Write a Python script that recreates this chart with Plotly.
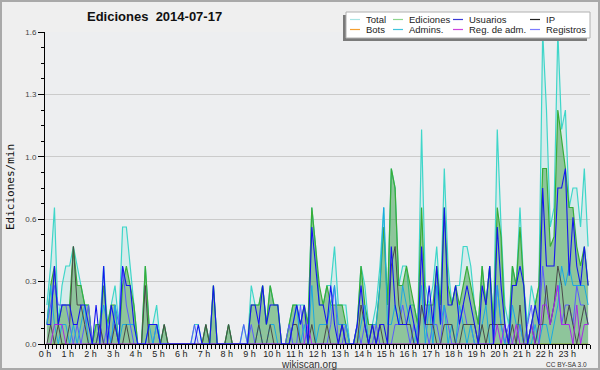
import plotly.graph_objects as go

# ---------------- data (10-minute bins, edits per minute) ----------------
bins_per_day = 144
hours = [(i + 0.5) / 6 for i in range(bins_per_day)]
hour_ticks = list(range(24))
hour_labels = [f"{h} h" for h in hour_ticks]
y_ticks = [0, 0.32, 0.64, 0.96, 1.28, 1.6]
y_labels = ["0.0", "0.3", "0.6", "1.0", "1.3", "1.6"]

total = [0.2,0.4,0.7,0.1,0.3,0.4, 0.4,0.5,0.4,0.3,0.2,0.2,
         0,0.1,0.1,0.4,0.1,0.2, 0.3,0.1,0.6,0.6,0.4,0.2,
         0,0,0.4,0.1,0.1,0.2, 0,0.1,0,0,0,0,
         0,0,0,0.1,0.1,0, 0.1,0,0.3,0,0,0,
         0.1,0,0,0,0.1,0, 0.3,0.2,0.2,0.3,0.1,0.3,
         0.2,0.2,0,0,0.1,0.2, 0.2,0.2,0.2,0.1,0.7,0.5,
         0.2,0.2,0.3,0.3,0.5,0.2, 0.2,0.2,0,0,0.1,0.4,
         0.3,0.1,0.1,0.2,0.4,0.7, 0.2,0.9,0.8,0.3,0.4,0.4,
         0.2,0.2,0.1,1.1,0.3,0.2, 0.3,0.5,0.2,0.9,0.4,0.2,
         0.3,0.3,0.5,0.5,0.4,0.2, 0.1,0.4,0.2,0.4,0.1,1.1,
         0.6,0.2,0.1,0.4,0.3,0.7, 0.3,0.1,0.3,0.2,0.3,1.6,
         1.2,0.6,0.7,1.6,1.1,1.2, 0.7,0.8,0.8,0.6,0.9,0.5]

ediciones = [0.1,0.3,0.4,0.1,0.2,0.2, 0.2,0.5,0.3,0.3,0.2,0.2,
             0,0.1,0.1,0.3,0.1,0.2, 0.2,0,0.3,0.4,0.3,0.2,
             0,0,0.4,0.1,0.1,0.1, 0,0.1,0,0,0,0,
             0,0,0,0,0,0, 0.1,0,0.3,0,0,0,
             0.1,0,0,0,0,0, 0.2,0.2,0.2,0.3,0.1,0.3,
             0.2,0.2,0,0,0.1,0.2, 0.2,0.1,0.2,0.1,0.7,0.5,
             0.3,0.2,0.3,0.2,0.2,0.2, 0.2,0.1,0,0,0.1,0.4,
             0.2,0.1,0.1,0.1,0.3,0.6, 0.2,0.9,0.8,0.3,0.3,0.4,
             0.3,0.2,0.1,0.7,0.2,0.2, 0.2,0.4,0.2,0.7,0.3,0.2,
             0.3,0.2,0.3,0.4,0.3,0.2, 0.1,0.4,0.2,0.4,0.1,0.7,
             0.55,0.1,0,0.4,0.3,0.6, 0.3,0,0.1,0.2,0.3,0.9,
             0.9,0.5,0.55,1.2,1.05,0.9, 0.7,0.7,0.5,0.4,0.5,0.3]

usuarios = [0.1,0.1,0.4,0.1,0.2,0.2, 0.2,0.1,0.1,0.2,0.2,0.1,
            0,0.2,0,0.4,0,0.2, 0.1,0,0.4,0.3,0.3,0.1,
            0,0,0,0.1,0.1,0.1, 0,0,0,0,0,0,
            0,0,0,0,0.1,0, 0,0,0.3,0,0,0,
            0,0,0,0,0,0, 0.2,0.2,0.1,0.3,0.1,0.2,
            0.2,0.2,0,0,0,0.1, 0.2,0.1,0.2,0,0.6,0.4,
            0.2,0.2,0.1,0.3,0.1,0, 0.1,0,0,0,0.1,0.3,
            0.1,0,0.1,0,0.1,0.1, 0,0.5,0.2,0.1,0.1,0.1,
            0.2,0.1,0,0.5,0.1,0.3, 0.1,0.4,0.1,0.7,0.2,0.2,
            0.3,0.1,0.2,0.3,0.2,0.1, 0,0.3,0.2,0.4,0,0.6,
            0.3,0.1,0,0.3,0.3,0.4, 0.3,0,0.1,0.2,0.1,0.8,
            0.4,0.4,0.4,0.8,0.8,0.9, 0.35,0.65,0.4,0.3,0.5,0.3]

ip = [0,0.1,0,0.1,0,0, 0.1,0.5,0.2,0.2,0.1,0,
      0,0,0.1,0,0,0, 0.1,0,0,0.1,0,0,
      0,0,0.3,0,0,0, 0,0.1,0,0,0,0,
      0,0,0,0,0,0, 0.1,0,0,0,0,0,
      0.1,0,0,0,0,0, 0,0,0.1,0,0,0.1,
      0,0,0,0,0,0.1, 0.1,0,0,0,0.1,0,
      0,0,0.1,0,0,0, 0.1,0,0,0,0,0.2,
      0.1,0,0.1,0,0.1,0, 0,0.4,0.5,0.2,0.1,0.1,
      0.1,0,0,0.2,0.1,0.1, 0.1,0,0,0.1,0.1,0.1,
      0,0,0.1,0.1,0.1,0.1, 0,0.1,0,0.1,0.1,0.1,
      0.1,0.1,0,0.1,0,0.2, 0,0,0.1,0,0.1,0.1,
      0.3,0.1,0.2,0.4,0.3,0.1, 0.2,0.1,0,0.1,0.2,0.1]

bots = [0] * bins_per_day

admins = [0.1,0.3,0.1,0,0.1,0.1, 0,0.1,0,0.1,0.2,0,
          0,0,0.1,0.2,0.1,0, 0.2,0,0.1,0.1,0.1,0.1,
          0,0,0,0.1,0,0.1, 0,0,0,0,0,0,
          0,0,0,0,0,0, 0,0,0,0,0,0,
          0,0,0,0,0,0, 0,0,0.1,0,0,0.1,
          0.1,0,0,0,0,0.1, 0.2,0,0.1,0,0.3,0,
          0.1,0.1,0.1,0.2,0.3,0.1, 0.1,0.1,0,0,0,0.1,
          0.2,0,0.1,0.1,0.3,0.7, 0.1,0.1,0.2,0.1,0.3,0.2,
          0.1,0,0.1,0.3,0,0.2, 0,0.3,0.1,0.2,0,0.1,
          0,0.2,0.1,0,0.1,0, 0,0.1,0.2,0,0,0.3,
          0.1,0,0,0.2,0.1,0.1, 0,0,0,0.1,0,0.1,
          0.1,0,0.1,0.2,0.4,0.3, 0.4,0.3,0.3,0.3,0.3,0.2]

reg_adm = [0,0,0.1,0.1,0.1,0, 0,0,0,0,0,0,
           0,0,0,0,0,0, 0,0,0,0,0,0,
           0,0,0,0,0,0, 0,0,0,0,0,0,
           0,0,0,0,0,0, 0,0,0,0,0,0,
           0,0,0,0,0,0, 0,0,0,0,0,0,
           0,0,0,0,0,0, 0,0,0,0.1,0,0,
           0,0,0,0,0,0, 0,0,0,0,0,0,
           0,0,0,0,0,0, 0,0,0,0,0,0,
           0,0,0,0,0,0, 0,0,0,0,0,0,
           0,0,0,0,0,0, 0,0,0,0,0,0.1,
           0,0.1,0,0,0.1,0, 0,0,0.1,0,0,0.2,
           0.2,0.1,0.2,0.3,0.1,0.1, 0.1,0,0.2,0,0.1,0.1]

registros = [0.1,0.2,0.3,0.2,0.2,0.2, 0.1,0,0.1,0,0.1,0.2,
             0,0,0.1,0,0.1,0, 0.2,0.1,0.4,0.2,0.1,0,
             0,0,0,0,0,0.1, 0,0,0,0,0,0,
             0,0,0,0.1,0,0, 0,0,0,0,0,0,
             0,0,0,0,0.1,0, 0.1,0,0,0,0,0,
             0,0,0,0,0.1,0, 0,0.2,0,0,0,0,
             0,0,0,0.1,0.3,0, 0,0.1,0,0,0.1,0,
             0.1,0,0,0.1,0,0, 0,0,0.1,0.1,0.2,0.1,
             0,0.1,0,0.2,0.1,0, 0.1,0.1,0,0.2,0.1,0,
             0,0.1,0.2,0.1,0.1,0, 0,0,0,0,0,0.3,
             0.1,0,0.1,0,0,0.1, 0,0.1,0.2,0,0.1,0.4,
             0.2,0.1,0.2,0.3,0.1,0.2, 0.2,0.1,0.3,0.2,0.2,0.1]

legend_names = ["Total", "Ediciones", "Usuarios", "IP",
                "Bots", "Admins.", "Reg. de adm.", "Registros"]
legend_colors = ["#a8e4e4", "#8ed68e", "#3a3ad6", "#222222",
                 "#f5a030", "#40c4dc", "#cc44dd", "#7c7cff"]

# ---------------- geometry helpers (pixels -> paper) ----------------
W, H = 600, 370
ML, MR, MT, MB = 45, 10, 32, 26
PW, PH = W - ML - MR, H - MT - MB


def px(x):
    return (x - ML) / PW


def py(y):
    return (H - MB - y) / PH


fig = go.Figure()

series = [
    ("Bots", bots, "#f5a030", None, None, 1.0),
    ("Total", total, "#3fd6c9", "tozeroy", "rgba(64,214,200,0.13)", 1.2),
    ("Ediciones", ediciones, "#38ad38", "tozeroy", "rgba(34,139,34,0.40)", 1.2),
    ("Registros", registros, "#5a5aff", None, None, 1.0),
    ("Admins.", admins, "#1aa8e2", None, None, 1.0),
    ("IP", ip, "#4a4a4a", None, None, 1.0),
    ("Reg. de adm.", reg_adm, "#a828e8", None, None, 1.0),
    ("Usuarios", usuarios, "#1515f0", None, None, 1.1),
]
for name, vals, col, fill, fcol, lw in series:
    kw = dict(fill=fill, fillcolor=fcol) if fill else {}
    fig.add_trace(go.Scatter(x=hours, y=vals, name=name, mode="lines",
                             line=dict(color=col, width=lw),
                             showlegend=False, **kw))

shapes = []
annotations = []

# outer frame
shapes.append(dict(type="rect", xref="paper", yref="paper",
                   x0=px(0), x1=px(W), y0=py(H), y1=py(0),
                   line=dict(color="#a9a9a9", width=4), layer="above"))

# legend box (shadow + box)
bx0, bx1, by0, by1 = 346, 590, 12, 38
shapes.append(dict(type="rect", xref="paper", yref="paper",
                   x0=px(bx0 - 3), x1=px(bx1 - 3), y0=py(by1 + 3), y1=py(by0 + 3),
                   fillcolor="#7a7a7a", line=dict(width=0), layer="above"))
shapes.append(dict(type="rect", xref="paper", yref="paper",
                   x0=px(bx0), x1=px(bx1), y0=py(by1), y1=py(by0),
                   fillcolor="white", line=dict(color="#b0b0b0", width=1), layer="above"))
col_x = [350, 393, 453, 530]
row_y = [19.5, 29.5]
for k, (nm, c) in enumerate(zip(legend_names, legend_colors)):
    cx = col_x[k % 4]
    cy = row_y[k // 4]
    shapes.append(dict(type="line", xref="paper", yref="paper",
                       x0=px(cx), x1=px(cx + 10), y0=py(cy), y1=py(cy),
                       line=dict(color=c, width=1.2), layer="above"))
    annotations.append(dict(text=nm, xref="paper", yref="paper",
                            x=px(cx + 14), y=py(cy), xanchor="left", yanchor="middle",
                            showarrow=False,
                            font=dict(family="Liberation Sans", size=9.5, color="#222")))

# title and other texts
annotations.append(dict(text="Ediciones\u00a0 2014-07-17", xref="paper", yref="paper",
                        x=px(154), y=py(17), xanchor="center", yanchor="middle",
                        showarrow=False,
                        font=dict(family="Liberation Sans", size=13, color="#111",
                                  weight="bold")))
annotations.append(dict(text="Ediciones/min", xref="paper", yref="paper",
                        x=px(10), y=py(187), xanchor="center", yanchor="middle",
                        textangle=-90, showarrow=False,
                        font=dict(family="DejaVu Sans Mono", size=11, color="#111")))
annotations.append(dict(text="wikiscan.org", xref="paper", yref="paper",
                        x=px(309), y=py(364.5), xanchor="center", yanchor="middle",
                        showarrow=False,
                        font=dict(family="Liberation Sans", size=10, color="#333")))
annotations.append(dict(text="CC BY-SA 3.0", xref="paper", yref="paper",
                        x=px(589), y=py(364.5), xanchor="right", yanchor="middle",
                        showarrow=False,
                        font=dict(family="Liberation Sans", size=6.5, color="#333")))

fig.update_layout(
    width=W, height=H, autosize=False,
    margin=dict(l=ML, r=MR, t=MT, b=MB, pad=0),
    paper_bgcolor="#efefef", plot_bgcolor="#edeef0",
    showlegend=False,
    shapes=shapes, annotations=annotations,
    xaxis=dict(range=[0, 24], tickvals=hour_ticks, ticktext=hour_labels,
               ticks="outside", ticklen=4, tickcolor="black", tickwidth=1,
               ticklabelstandoff=-3,
               showline=True, linecolor="black", linewidth=1,
               showgrid=False, zeroline=False,
               tickfont=dict(family="Liberation Sans", size=9, color="#222"),
               minor=dict(dtick=1 / 6, tick0=0, ticks="outside", ticklen=4,
                          tickcolor="black", showgrid=False)),
    yaxis=dict(range=[0, 1.6], tickvals=y_ticks, ticktext=y_labels,
               ticks="outside", ticklen=6, tickcolor="black", tickwidth=1,
               showline=True, linecolor="black", linewidth=1,
               showgrid=True, gridcolor="#cbcbcb", gridwidth=1, zeroline=False,
               tickfont=dict(family="Liberation Sans", size=8, color="#444"),
               minor=dict(dtick=0.08, tick0=0, ticks="outside", ticklen=3,
                          tickcolor="black", showgrid=False)),
)

fig.write_html("out.html", config={"displayModeBar": False},
               post_script="document.body.style.margin='0';document.body.style.overflow='hidden';")
